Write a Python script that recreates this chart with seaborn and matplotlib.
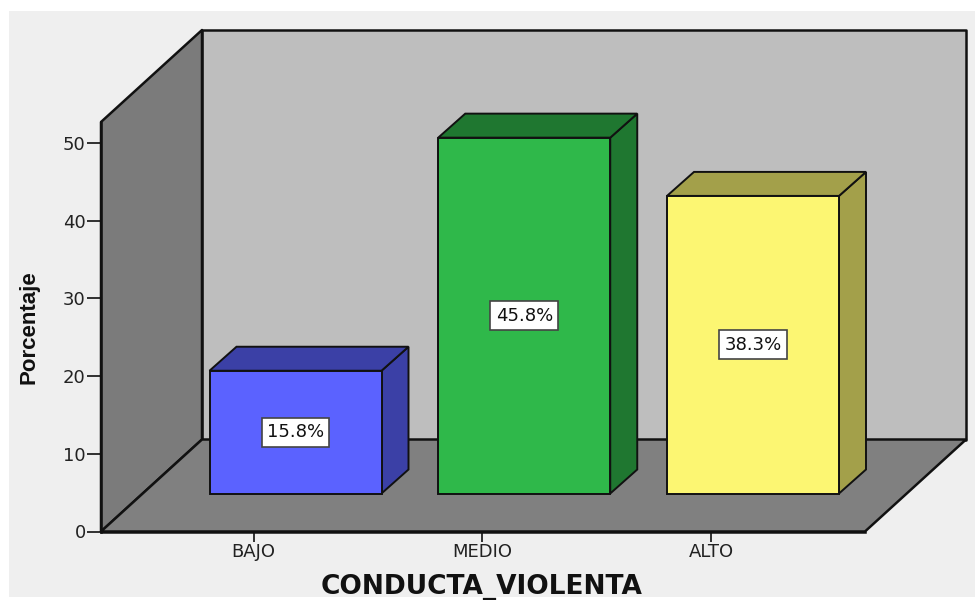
import matplotlib
matplotlib.use("Agg")
import matplotlib.pyplot as plt
from matplotlib.patches import Polygon, Rectangle
import seaborn as sns

categorias = ["BAJO", "MEDIO", "ALTO"]
porcentajes = [15.8, 45.8, 38.3]
etiquetas = ["15.8%", "45.8%", "38.3%"]
colores = ["#5B62FF", "#2FB84A", "#FCF672"]
colores_lado = ["#3B40A6", "#1F7730", "#A3A04A"]
y_ticks = [0, 10, 20, 30, 40, 50]

sns.set_style("ticks")
plt.rcParams["font.family"] = ["DejaVu Sans"]

W, H = 975, 600
fig = plt.figure(figsize=(W / 100, H / 100), dpi=100, facecolor="white")

# fondo gris del panel
fig.add_artist(Rectangle((9 / W, 1 - 597 / H), (W - 9) / W, 586 / H, zorder=-1,
                         transform=fig.transFigure, facecolor="#EFEFEF", edgecolor="none"))

# ejes en pixeles: izquierda 101, derecha 865, y=0 en 531.5, y=50 en 143
px_y = (531.5 - 143) / 50
px_x = 228.75
top_px = 122
ax = fig.add_axes([101 / W, 1 - 531.5 / H, (865 - 101) / W, (531.5 - top_px) / H])
ax.patch.set_visible(False)

# base de las barras y profundidad (en unidades de datos)
base = 38 / px_y
prof_x, prof_y = 27 / px_x, 24 / px_y
pared_x, pared_y = 101 / px_x, 92 / px_y

sns.barplot(x=categorias, y=porcentajes, hue=categorias, palette=colores, dodge=False,
            width=172 / px_x, bottom=base, edgecolor="#111111", linewidth=1.4,
            saturation=1, legend=False, zorder=3, ax=ax)

x0 = (101 - 295.5) / px_x
x1 = (865 - 295.5) / px_x
y1 = (531.5 - top_px) / px_y
ax.set_xlim(x0, x1)
ax.set_ylim(0, y1)

# paredes y piso
borde = dict(edgecolor="#111111", linewidth=1.8, clip_on=False, joinstyle="round")
ax.add_patch(Polygon([(x0 + pared_x, pared_y), (x1 + pared_x, pared_y),
                      (x1 + pared_x, y1 + pared_y), (x0 + pared_x, y1 + pared_y)],
                     facecolor="#BEBEBE", zorder=0.5, **borde))
ax.add_patch(Polygon([(x0, 0), (x0 + pared_x, pared_y), (x0 + pared_x, y1 + pared_y), (x0, y1)],
                     facecolor="#7B7B7B", zorder=0.6, **borde))
ax.add_patch(Polygon([(x0, 0), (x1, 0), (x1 + pared_x, pared_y), (x0 + pared_x, pared_y)],
                     facecolor="#808080", zorder=0.7, **borde))

# caras 3D de cada barra y etiqueta
for barra, lado, texto in zip(ax.patches[:3], colores_lado, etiquetas):
    xa, xb = barra.get_x(), barra.get_x() + barra.get_width()
    ya, yb = barra.get_y(), barra.get_y() + barra.get_height()
    caras = dict(facecolor=lado, edgecolor="#111111", linewidth=1.4, zorder=2.9, clip_on=False)
    ax.add_patch(Polygon([(xb, ya), (xb + prof_x, ya + prof_y), (xb + prof_x, yb + prof_y), (xb, yb)], **caras))
    ax.add_patch(Polygon([(xa, yb), (xb, yb), (xb + prof_x, yb + prof_y), (xa + prof_x, yb + prof_y)], **caras))
    ax.text((xa + xb) / 2, (ya + yb) / 2, texto, ha="center", va="center", fontsize=13,
            color="#111111", zorder=5,
            bbox=dict(boxstyle="square,pad=0.3", facecolor="white", edgecolor="#444444", linewidth=1.2))

sns.despine(ax=ax)
for lado in ["left", "bottom"]:
    ax.spines[lado].set_linewidth(1.8)
    ax.spines[lado].set_color("#111111")
    ax.spines[lado].set_zorder(1)

ax.set_yticks(y_ticks)
ax.set_xticks([i - 42 / px_x for i in range(len(categorias))])
ax.set_xticklabels(categorias)
ax.tick_params(axis="y", length=10, width=1.3, color="#222222", labelsize=13, labelcolor="#222222", pad=1)
ax.tick_params(axis="x", length=7.5, width=1.3, color="#222222", labelsize=13, labelcolor="#222222", pad=1)

ax.set_xlabel("CONDUCTA_VIOLENTA", fontsize=19, fontweight="bold", color="#111111")
ax.xaxis.set_label_coords(0.4987, -(587.5 - 531.5) / (531.5 - top_px))
ax.xaxis.label.set_va("center")
ax.set_ylabel("Porcentaje", fontsize=16, fontweight="bold", color="#111111", family="Liberation Sans")
ax.yaxis.set_label_coords(-(101 - 29) / (865 - 101), (531.5 - 327) / (531.5 - top_px))
ax.yaxis.label.set_va("center")

fig.savefig("out.png", dpi=100)
